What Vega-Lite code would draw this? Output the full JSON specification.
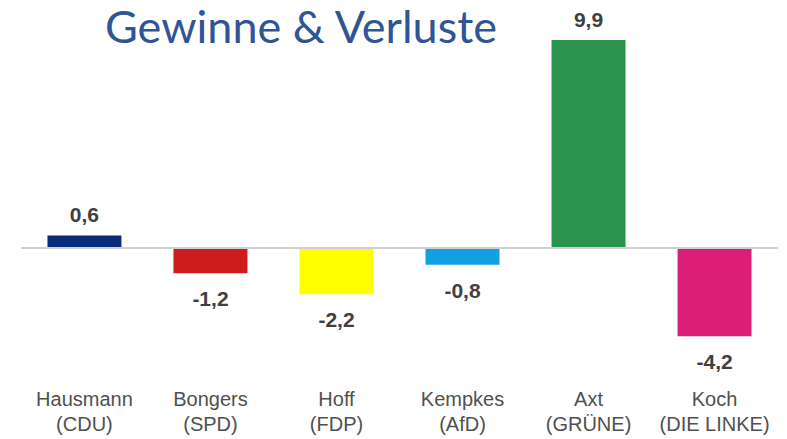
{
  "$schema": "https://vega.github.io/schema/vega-lite/v6.json",
  "width": 757,
  "height": 336,
  "autosize": "none",
  "padding": {"left": 21, "top": 38, "right": 9, "bottom": 65},
  "background": "white",
  "config": {
    "view": {"stroke": null},
    "font": "Liberation Sans",
    "locale": {
      "number": {
        "decimal": ",",
        "thousands": ".",
        "grouping": [3],
        "currency": ["", " €"],
        "minus": "-"
      }
    }
  },
  "title": {
    "text": "Gewinne & Verluste",
    "anchor": "start",
    "frame": "group",
    "font": "Lato",
    "fontSize": 45,
    "fontWeight": "normal",
    "color": "#2F5597",
    "baseline": "alphabetic",
    "offset": 0,
    "dx": 84,
    "dy": 78
  },
  "data": {
    "values": [
      {"kandidat": "Hausmann\n(CDU)", "partei": "CDU", "wert": 0.6},
      {"kandidat": "Bongers\n(SPD)", "partei": "SPD", "wert": -1.2},
      {"kandidat": "Hoff\n(FDP)", "partei": "FDP", "wert": -2.2},
      {"kandidat": "Kempkes\n(AfD)", "partei": "AfD", "wert": -0.8},
      {"kandidat": "Axt\n(GRÜNE)", "partei": "GRÜNE", "wert": 9.9},
      {"kandidat": "Koch\n(DIE LINKE)", "partei": "DIE LINKE", "wert": -4.2}
    ]
  },
  "encoding": {
    "y": {
      "field": "wert",
      "type": "quantitative",
      "scale": {"domain": [-6, 10], "nice": false, "zero": false},
      "axis": null
    }
  },
  "layer": [
    {
      "mark": {"type": "bar"},
      "encoding": {
        "x": {
          "field": "kandidat",
          "type": "nominal",
          "sort": null,
          "title": null,
          "scale": {"paddingInner": 0.413, "paddingOuter": 0.21},
          "axis": {
            "domain": false,
            "ticks": false,
            "labelAngle": 0,
            "labelExpr": "split(datum.label, '\\n')",
            "labelFont": "Liberation Sans",
            "labelFontSize": 20,
            "labelColor": "#505050",
            "labelLineHeight": 25,
            "labelPadding": 15,
            "labelBaseline": "top"
          }
        },
        "color": {
          "field": "partei",
          "type": "nominal",
          "legend": null,
          "scale": {
            "domain": ["CDU", "SPD", "FDP", "AfD", "GRÜNE", "DIE LINKE"],
            "range": ["#0A2A7A", "#CE1C1C", "#FFFF00", "#119FE2", "#2A934E", "#DB1E78"]
          }
        }
      }
    },
    {
      "data": {"values": [{"wert": 0}]},
      "mark": {"type": "rule", "color": "#D0D0D0", "strokeWidth": 2},
      "encoding": {}
    },
    {
      "transform": [{"filter": "datum.wert >= 0"}],
      "mark": {
        "type": "text",
        "baseline": "alphabetic",
        "dy": -13,
        "fontSize": 21,
        "fontWeight": "bold",
        "color": "#404040"
      },
      "encoding": {
        "x": {"field": "kandidat", "type": "nominal", "sort": null},
        "text": {"field": "wert", "type": "quantitative", "format": ".1f"}
      }
    },
    {
      "transform": [{"filter": "datum.wert < 0"}],
      "mark": {
        "type": "text",
        "baseline": "alphabetic",
        "dy": 33,
        "fontSize": 21,
        "fontWeight": "bold",
        "color": "#404040"
      },
      "encoding": {
        "x": {"field": "kandidat", "type": "nominal", "sort": null},
        "text": {"field": "wert", "type": "quantitative", "format": ".1f"}
      }
    }
  ]
}
